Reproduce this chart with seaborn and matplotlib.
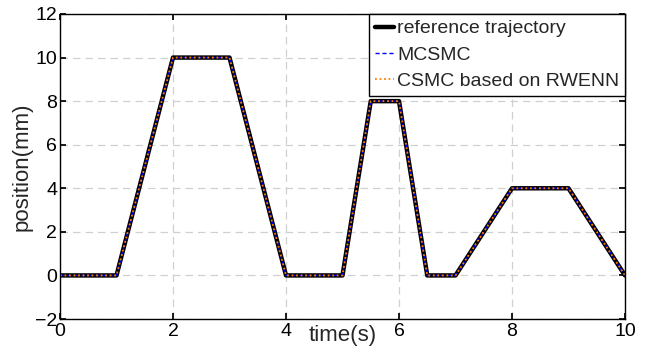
import matplotlib
matplotlib.use("Agg")
import matplotlib.pyplot as plt
import seaborn as sns
import pandas as pd

time_s = [0, 1, 2, 3, 4, 5, 5.5, 6, 6.5, 7, 8, 9, 10]
reference = [0, 0, 10, 10, 0, 0, 8, 8, 0, 0, 4, 4, 0]
mcsmc = [0, 0, 10, 10, 0, 0, 8, 8, 0, 0, 4, 4, 0]
csmc_rwenn = [0, 0, 10, 10, 0, 0, 8, 8, 0, 0, 4, 4, 0]
x_ticks = [0, 2, 4, 6, 8, 10]
y_ticks = [-2, 0, 2, 4, 6, 8, 10, 12]

sns.set_theme(style="white")
plt.rcParams['font.family'] = ['Liberation Sans', 'DejaVu Sans']

df = pd.DataFrame({"t": time_s, "ref": reference, "mc": mcsmc, "cs": csmc_rwenn})

fig = plt.figure(figsize=(6.49, 3.54), dpi=100)
ax = fig.add_axes([60/649, 1 - 319/354, (625-60)/649, (319-14)/354])

sns.lineplot(data=df, x="t", y="ref", ax=ax, color="black", linewidth=3.2,
             label="reference trajectory")
sns.lineplot(data=df, x="t", y="mc", ax=ax, color="#0000ff", linewidth=1.0,
             linestyle=(0, (3, 2)), label="MCSMC")
sns.lineplot(data=df, x="t", y="cs", ax=ax, color="#ff8000", linewidth=1.3,
             linestyle=(0, (1, 1.5)), label="CSMC based on RWENN")

ax.set_xlim(0, 10)
ax.set_ylim(-2, 12)
ax.set_xticks(x_ticks)
ax.set_yticks(y_ticks)
ax.tick_params(direction="in", length=4, labelsize=14, colors="black",
               top=True, right=True, bottom=True, left=True, pad=2)
ax.tick_params(axis="x", pad=3)
ax.grid(True, color="#d0d0d0", linestyle=(0, (6, 4)), linewidth=0.9)
for s in ax.spines.values():
    s.set_color("black")
    s.set_linewidth(1.0)

ax.set_xlabel("time(s)", fontsize=16)
ax.xaxis.set_label_coords((343-60)/(625-60), -0.02)
ax.set_ylabel("position(mm)", fontsize=16, labelpad=2)

leg = ax.legend(loc="upper right", fontsize=14, frameon=True, fancybox=False,
                borderaxespad=0, handlelength=1.0, handletextpad=0.15,
                borderpad=0.3, labelspacing=0.45, framealpha=1)
leg.get_frame().set_edgecolor("black")
leg.get_frame().set_linewidth(1.0)

fig.savefig("out.png", dpi=100)
